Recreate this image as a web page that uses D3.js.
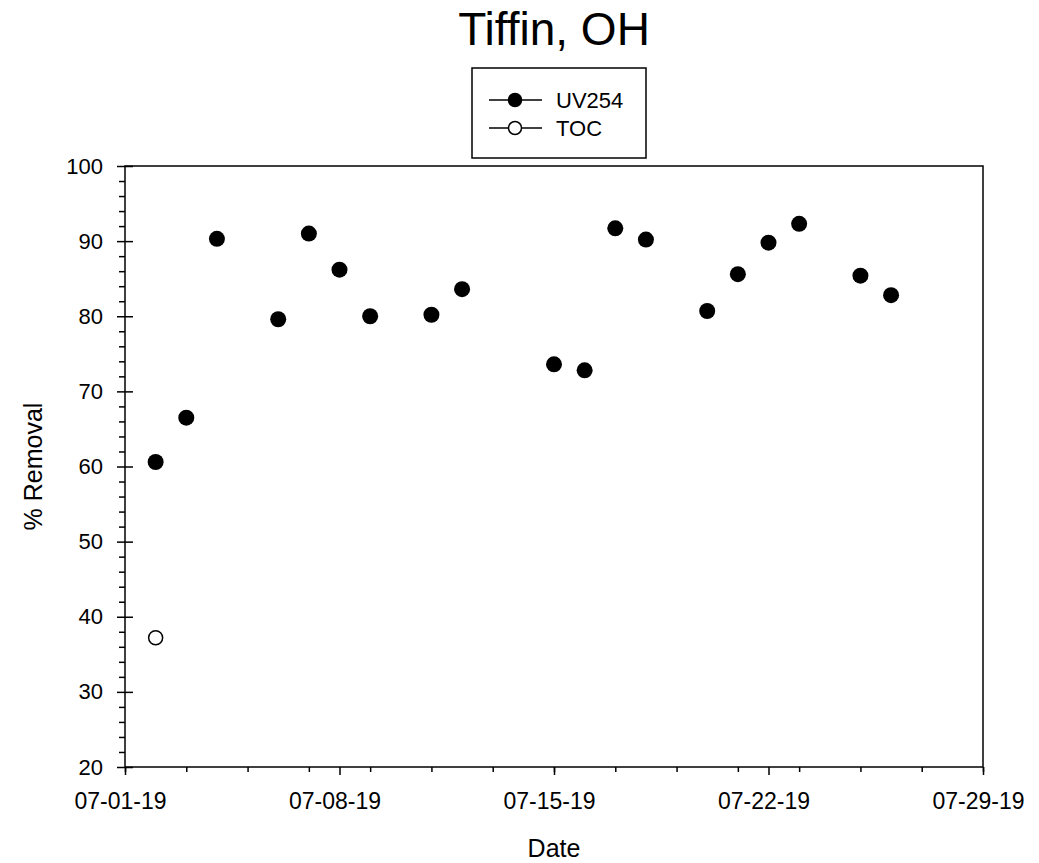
<!DOCTYPE html>
<html>
<head>
<meta charset="utf-8">
<script src="https://cdn.jsdelivr.net/npm/d3@7"></script>
<style>
  body { margin: 0; background: #fff; }
  svg { font-family: "Liberation Sans", Arial, sans-serif; }
</style>
</head>
<body>
<div id="chart"></div>
<script>
// data
var uvDates = ["07-02-19", "07-03-19", "07-04-19", "07-06-19", "07-07-19", "07-08-19", "07-09-19",
    "07-11-19", "07-12-19", "07-15-19", "07-16-19", "07-17-19", "07-18-19", "07-20-19",
    "07-21-19", "07-22-19", "07-23-19", "07-25-19", "07-26-19"];
var uvValues = [60.6, 66.5, 90.3, 79.6, 91.0, 86.2, 80.0, 80.2, 83.6, 73.6, 72.8, 91.7, 90.2, 80.7,
    85.6, 89.8, 92.3, 85.4, 82.8];
var tocDates = ["07-02-19"];
var tocValues = [37.2];
var xTickLabels = ["07-01-19", "07-08-19", "07-15-19", "07-22-19", "07-29-19"];
var yTicks = [20, 30, 40, 50, 60, 70, 80, 90, 100];

(() => {
    const width = 1039, height = 863;
    const left = 125, right = 983, top = 166, bottom = 767;
    const parse = d3.utcParse("%m-%d-%y");

    const svg = d3.select("#chart")
        .append("svg")
        .attr("width", width)
        .attr("height", height);

    var xScale = d3.scaleUtc()
        .domain([parse("07-01-19"), parse("07-29-19")])
        .range([left, right]);

    var yScale = d3.scaleLinear()
        .domain([20, 100])
        .range([bottom, top]);

    // frame
    svg.append("rect")
        .attr("x", left).attr("y", top)
        .attr("width", right - left).attr("height", bottom - top)
        .attr("fill", "none").attr("stroke", "#000").attr("stroke-width", 1.5);

    // x axis: majors weekly, minors every 2 days
    var majorX = xTickLabels.map(parse);
    var minorX = d3.utcDay.range(parse("07-01-19"), parse("07-30-19"), 1)
        .filter(d => (d.getUTCDate() - 1) % 2 === 0);

    svg.append("g")
        .attr("transform", `translate(0,${bottom})`)
        .call(d3.axisBottom(xScale).tickValues(minorX).tickSize(5).tickFormat(""))
        .call(g => g.select(".domain").remove())
        .selectAll("line").attr("stroke-width", 1.5);

    var xAxis = svg.append("g")
        .attr("transform", `translate(0,${bottom})`)
        .call(d3.axisBottom(xScale).tickValues(majorX).tickSize(8).tickPadding(18)
            .tickFormat(d3.utcFormat("%m-%d-%y")));
    xAxis.select(".domain").remove();
    xAxis.selectAll("line").attr("stroke-width", 1.5);
    xAxis.selectAll("text").attr("font-size", 23).attr("fill", "#000").attr("dx", -5)
        .attr("font-family", "Liberation Sans, Arial, sans-serif");

    // y axis: majors every 10 crossing, minors every 2 outward
    var minorY = d3.range(20, 101, 2).filter(v => v % 10 !== 0);
    svg.append("g")
        .attr("transform", `translate(${left},0)`)
        .call(d3.axisLeft(yScale).tickValues(minorY).tickSize(6).tickFormat(""))
        .call(g => g.select(".domain").remove())
        .selectAll("line").attr("stroke-width", 1.5);

    var yAxis = svg.append("g")
        .attr("transform", `translate(${left},0)`)
        .call(d3.axisLeft(yScale).tickValues(yTicks).tickSize(8).tickPadding(14));
    yAxis.select(".domain").remove();
    yAxis.selectAll("line").attr("x2", 8).attr("x1", -8).attr("stroke-width", 1.5);
    yAxis.selectAll("text").attr("font-size", 22).attr("fill", "#000")
        .attr("font-family", "Liberation Sans, Arial, sans-serif");

    // points
    svg.append("g").selectAll("circle")
        .data(uvDates.map((d, i) => ({ date: parse(d), value: uvValues[i] })))
        .enter()
        .append("circle")
        .attr("cx", d => xScale(d.date))
        .attr("cy", d => yScale(d.value))
        .attr("r", 8)
        .attr("fill", "#000");

    svg.append("g").selectAll("circle")
        .data(tocDates.map((d, i) => ({ date: parse(d), value: tocValues[i] })))
        .enter()
        .append("circle")
        .attr("cx", d => xScale(d.date))
        .attr("cy", d => yScale(d.value))
        .attr("r", 7)
        .attr("fill", "#fff")
        .attr("stroke", "#000")
        .attr("stroke-width", 1.5);

    // titles
    svg.append("text")
        .attr("x", 554).attr("y", 45)
        .attr("text-anchor", "middle")
        .attr("font-size", 46)
        .text("Tiffin, OH");

    svg.append("text")
        .attr("x", (left + right) / 2).attr("y", 857)
        .attr("text-anchor", "middle")
        .attr("font-size", 25)
        .text("Date");

    svg.append("text")
        .attr("transform", `translate(42,${(top + bottom) / 2}) rotate(-90)`)
        .attr("text-anchor", "middle")
        .attr("font-size", 25)
        .text("% Removal");

    // legend
    var legend = svg.append("g");
    legend.append("rect")
        .attr("x", 472).attr("y", 68)
        .attr("width", 174).attr("height", 90)
        .attr("fill", "#fff").attr("stroke", "#000").attr("stroke-width", 1.5);

    var items = [
        { name: "UV254", fill: "#000", y: 100 },
        { name: "TOC", fill: "#fff", y: 128 }
    ];
    items.forEach(it => {
        legend.append("line")
            .attr("x1", 489).attr("x2", 542)
            .attr("y1", it.y).attr("y2", it.y)
            .attr("stroke", "#000").attr("stroke-width", 1.5);
        legend.append("circle")
            .attr("cx", 515).attr("cy", it.y).attr("r", 6.5)
            .attr("fill", it.fill).attr("stroke", "#000").attr("stroke-width", 1.5);
        legend.append("text")
            .attr("x", 556).attr("y", it.y + 8)
            .attr("font-size", 22)
            .text(it.name);
    });
})();
</script>
</body>
</html>
